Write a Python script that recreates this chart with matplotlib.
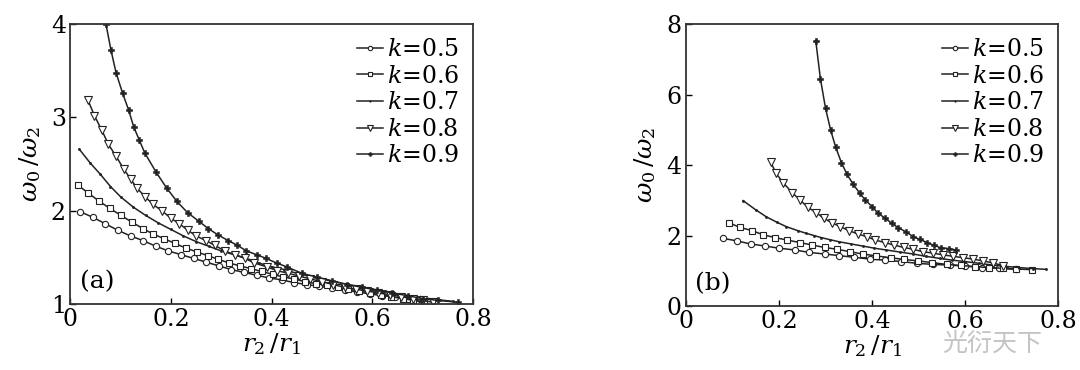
import numpy as np
import matplotlib
matplotlib.use('Agg')
import matplotlib.pyplot as plt

plt.rcParams['font.family'] = ['DejaVu Serif']
plt.rcParams['mathtext.fontset'] = 'dejavuserif'

#################################################################################################
# Data #
#################################################################################################
k_labels = ['0.5', '0.6', '0.7', '0.8', '0.9']

# Panel (a)
xa_05 = [0.02, 0.045, 0.07, 0.095, 0.12, 0.145, 0.17, 0.195, 0.22, 0.245, 0.27, 0.295, 0.32, 0.345,
         0.37, 0.395, 0.42, 0.445, 0.47, 0.495, 0.52, 0.545, 0.57, 0.595, 0.62, 0.645, 0.67, 0.695]
ya_05 = [1.99, 1.93, 1.86, 1.79, 1.73, 1.68, 1.62, 1.57, 1.53, 1.49, 1.45, 1.41, 1.37, 1.34,
         1.31, 1.28, 1.26, 1.23, 1.21, 1.19, 1.17, 1.15, 1.13, 1.11, 1.09, 1.08, 1.06, 1.05]

xa_06 = [0.015, 0.036, 0.058, 0.079, 0.101, 0.122, 0.144, 0.165, 0.187, 0.208, 0.23, 0.251, 0.273,
         0.294, 0.316, 0.337, 0.359, 0.38, 0.402, 0.423, 0.445, 0.466, 0.488, 0.509, 0.531, 0.552,
         0.574, 0.595, 0.617, 0.638, 0.66, 0.681, 0.703]
ya_06 = [2.275, 2.19, 2.10, 2.025, 1.95, 1.88, 1.81, 1.75, 1.70, 1.65, 1.60, 1.56, 1.52,
         1.48, 1.44, 1.41, 1.38, 1.35, 1.32, 1.29, 1.27, 1.24, 1.22, 1.20, 1.18, 1.16,
         1.14, 1.12, 1.10, 1.08, 1.06, 1.04, 1.025]

xa_07 = [0.018, 0.04, 0.06, 0.08, 0.10, 0.125, 0.15, 0.175, 0.20, 0.225, 0.25, 0.275, 0.30, 0.325,
         0.35, 0.375, 0.40, 0.425, 0.45, 0.475, 0.50, 0.525, 0.55, 0.575, 0.60, 0.625, 0.65, 0.675,
         0.70, 0.725, 0.76]
ya_07 = [2.66, 2.51, 2.39, 2.26, 2.15, 2.04, 1.95, 1.87, 1.80, 1.73, 1.67, 1.62, 1.57, 1.53,
         1.49, 1.44, 1.40, 1.37, 1.33, 1.30, 1.27, 1.24, 1.21, 1.19, 1.16, 1.14, 1.11, 1.09,
         1.07, 1.05, 1.03]

xa_08 = [0.035, 0.048, 0.063, 0.076, 0.091, 0.106, 0.12, 0.133, 0.149, 0.164, 0.183, 0.2, 0.217,
         0.234, 0.25, 0.27, 0.287, 0.307, 0.327, 0.347, 0.366, 0.39, 0.41, 0.433, 0.455, 0.477,
         0.50, 0.522, 0.545, 0.567, 0.59, 0.612, 0.635, 0.657, 0.68, 0.70, 0.72]
ya_08 = [3.19, 3.02, 2.86, 2.71, 2.585, 2.45, 2.34, 2.24, 2.15, 2.07, 1.996, 1.92, 1.86,
         1.79, 1.73, 1.68, 1.63, 1.57, 1.53, 1.49, 1.44, 1.40, 1.36, 1.33, 1.30, 1.27,
         1.24, 1.21, 1.18, 1.16, 1.14, 1.12, 1.10, 1.08, 1.06, 1.04, 1.02]

xa_09 = [0.071, 0.081, 0.091, 0.104, 0.116, 0.126, 0.137, 0.148, 0.171, 0.192, 0.212, 0.233, 0.255,
         0.274, 0.294, 0.314, 0.332, 0.35, 0.37, 0.389, 0.41, 0.43, 0.46, 0.49, 0.52, 0.55,
         0.58, 0.61, 0.64, 0.67, 0.70, 0.73, 0.77]
ya_09 = [4.0, 3.72, 3.48, 3.26, 3.08, 2.90, 2.76, 2.62, 2.41, 2.24, 2.10, 1.98, 1.89,
         1.81, 1.74, 1.68, 1.63, 1.57, 1.53, 1.49, 1.44, 1.40, 1.33, 1.29, 1.25, 1.21,
         1.18, 1.15, 1.12, 1.09, 1.06, 1.04, 1.02]

# Panel (b)
xb_05 = [0.079, 0.109, 0.139, 0.171, 0.20, 0.234, 0.265, 0.298, 0.329, 0.362, 0.395, 0.428, 0.463,
         0.497, 0.531, 0.567, 0.60, 0.637, 0.672, 0.708]
yb_05 = [1.92, 1.85, 1.76, 1.70, 1.64, 1.59, 1.52, 1.475, 1.43, 1.38, 1.33, 1.30, 1.26,
         1.21, 1.18, 1.16, 1.13, 1.09, 1.07, 1.04]

xb_06 = [0.093, 0.116, 0.142, 0.166, 0.192, 0.218, 0.245, 0.271, 0.298, 0.325, 0.352, 0.38, 0.409,
         0.44, 0.468, 0.499, 0.529, 0.56, 0.59, 0.62, 0.65, 0.68, 0.71, 0.743]
yb_06 = [2.36, 2.23, 2.14, 2.02, 1.94, 1.87, 1.80, 1.73, 1.66, 1.61, 1.54, 1.475, 1.42,
         1.37, 1.32, 1.28, 1.23, 1.18, 1.15, 1.12, 1.09, 1.07, 1.05, 1.03]

xb_07 = [0.123, 0.15, 0.173, 0.195, 0.216, 0.24, 0.259, 0.275, 0.291, 0.31, 0.33, 0.355, 0.38, 0.405,
         0.43, 0.46, 0.488, 0.515, 0.545, 0.572, 0.60, 0.63, 0.66, 0.69, 0.716, 0.745, 0.774]
yb_07 = [2.99, 2.73, 2.53, 2.38, 2.25, 2.14, 2.06, 2.00, 1.94, 1.88, 1.82, 1.76, 1.70, 1.64,
         1.59, 1.53, 1.475, 1.41, 1.35, 1.30, 1.26, 1.21, 1.16, 1.12, 1.09, 1.06, 1.04]

xb_08 = [0.182, 0.194, 0.209, 0.228, 0.245, 0.262, 0.28, 0.296, 0.314, 0.332, 0.35, 0.37, 0.388,
         0.407, 0.427, 0.447, 0.468, 0.488, 0.509, 0.531, 0.552, 0.574, 0.595, 0.617, 0.638, 0.66,
         0.682]
yb_08 = [4.09, 3.76, 3.50, 3.22, 3.01, 2.80, 2.65, 2.49, 2.36, 2.25, 2.14, 2.04, 1.97,
         1.87, 1.80, 1.73, 1.66, 1.61, 1.54, 1.50, 1.45, 1.41, 1.37, 1.33, 1.28, 1.22,
         1.14]

xb_09 = [0.279, 0.289, 0.30, 0.311, 0.322, 0.334, 0.346, 0.359, 0.373, 0.385, 0.40, 0.413, 0.428,
         0.442, 0.456, 0.472, 0.488, 0.502, 0.518, 0.533, 0.548, 0.565, 0.58]
yb_09 = [7.53, 6.45, 5.61, 4.99, 4.50, 4.07, 3.74, 3.46, 3.21, 3.01, 2.82, 2.63, 2.49,
         2.35, 2.22, 2.11, 1.97, 1.89, 1.80, 1.72, 1.65, 1.63, 1.59]

series_a = [(xa_05, ya_05), (xa_06, ya_06), (xa_07, ya_07), (xa_08, ya_08), (xa_09, ya_09)]
series_b = [(xb_05, yb_05), (xb_06, yb_06), (xb_07, yb_07), (xb_08, yb_08), (xb_09, yb_09)]

#################################################################################################
# Styles #
#################################################################################################
styles = [dict(marker='o', ms=4.5, mfc='white', mew=0.8),
          dict(marker='s', ms=4.5, mfc='white', mew=0.8),
          dict(marker='.', ms=3, mfc='#222222', mew=0.5),
          dict(marker='v', ms=5.5, mfc='white', mew=0.8),
          dict(marker='P', ms=4, mfc='#222222', mew=0.4)]
line_c = '#222222'


def draw_panel(ax, series, xlim, ylim, yticks, tag):
    for (x, y), lab, st in zip(series, k_labels, styles):
        ax.plot(x, y, color=line_c, lw=1.1, mec=line_c, label='$k$=' + lab, **st)
    ax.set_xlim(*xlim)
    ax.set_ylim(*ylim)
    ax.set_xticks([0, 0.2, 0.4, 0.6, 0.8])
    ax.set_xticklabels(['0', '0.2', '0.4', '0.6', '0.8'])
    ax.set_yticks(yticks)
    ax.tick_params(direction='in', length=4, width=1, labelsize=17, pad=3,
                   top=False, right=False)
    for sp in ax.spines.values():
        sp.set_linewidth(1.3)
        sp.set_color('#333333')
    ax.set_xlabel(r'$r_2\,/r_1$', fontsize=18, labelpad=0)
    ax.set_ylabel(r'$\omega_0\,/\omega_2$', fontsize=18, labelpad=6)
    ax.text(0.025, 0.04, tag, transform=ax.transAxes, fontsize=18, ha='left', va='bottom')
    leg = ax.legend(loc='upper right', frameon=False, fontsize=17, handlelength=1.1,
                    handletextpad=0.15, labelspacing=0.15, borderaxespad=0.2,
                    markerscale=0.7)
    return leg


fig = plt.figure(figsize=(10.8, 3.7), dpi=100)
ax1 = fig.add_axes([0.065, 0.178, 0.373, 0.757])
ax2 = fig.add_axes([0.635, 0.173, 0.345, 0.762])

draw_panel(ax1, series_a, (0, 0.8), (1, 4), [1, 2, 3, 4], '(a)')
draw_panel(ax2, series_b, (0, 0.8), (0, 8), [0, 2, 4, 6, 8], '(b)')

# watermark
fig.text(0.872, 0.07, '光衍天下', fontsize=18, color='#c4c4c4',
         family=['Noto Sans CJK SC', 'DejaVu Sans'], ha='left', va='center')

fig.savefig('out.png', dpi=100)
